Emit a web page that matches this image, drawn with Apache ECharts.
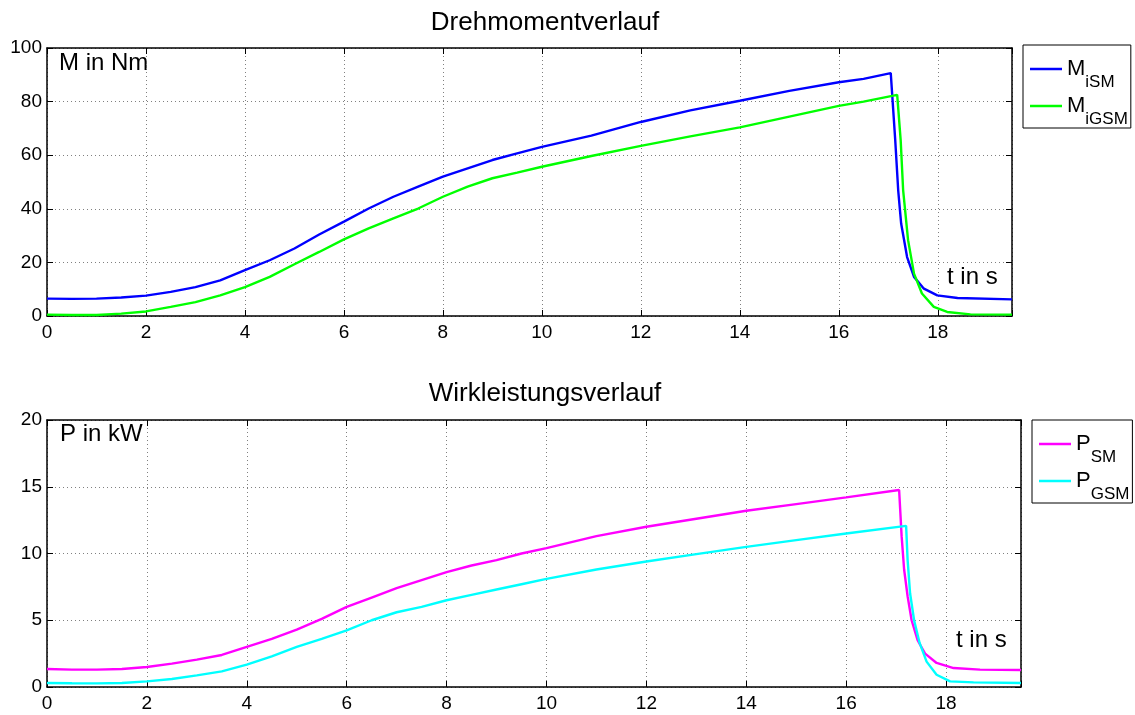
<!DOCTYPE html>
<html><head><meta charset="utf-8">
<script src="https://cdn.jsdelivr.net/npm/echarts@6/dist/echarts.min.js"></script>
<style>html,body{margin:0;padding:0;background:#fff}#c{width:1135px;height:715px}</style>
</head><body><div id="c"></div>
<script>
// ---- data ----
const xTicks = [0, 2, 4, 6, 8, 10, 12, 14, 16, 18];
const tM_iSM = [0,0.5,1,1.5,2,2.5,3,3.5,4,4.5,5,5.5,6,6.5,7,7.5,8,8.5,9,9.5,10,11,12,13,14,15,16,16.5,17.05,17.14,17.2,17.26,17.38,17.52,17.72,17.99,18.4,19.5];
const M_iSM  = [6.5,6.4,6.5,6.9,7.6,9.0,10.8,13.3,17.1,20.8,25.2,30.4,35.2,40.1,44.5,48.3,52.0,55.1,58.2,60.7,63.1,67.3,72.4,76.7,80.3,84.0,87.2,88.5,90.6,65.7,47,34.5,22,14.6,10.2,7.7,6.7,6.2];
const tM_iGSM = [0,0.5,1,1.5,2,2.5,3,3.5,4,4.5,5,5.5,6,6.5,7,7.5,8,8.5,9,9.5,10,11,12,13,14,15,16,16.5,17.18,17.25,17.3,17.4,17.52,17.68,17.92,18.19,18.66,19.5];
const M_iGSM  = [0.5,0.4,0.4,0.9,1.7,3.4,5.2,7.7,10.8,14.6,19.3,23.9,28.6,32.7,36.4,40.1,44.5,48.3,51.4,53.5,55.7,59.7,63.5,67.0,70.4,74.4,78.4,80.0,82.5,65.7,47,28.3,15.8,8.4,3.4,1.5,0.6,0.5];
const tP_SM = [0,0.5,1,1.5,2,2.5,3,3.5,4,4.5,5,5.5,6,6.5,7,7.5,8,8.5,9,9.5,10,11,12,13,14,15,16,17.06,17.11,17.16,17.23,17.31,17.43,17.58,17.81,18.15,18.68,19.5];
const P_SM  = [1.35,1.3,1.3,1.35,1.5,1.75,2.05,2.4,3.0,3.6,4.3,5.1,6.0,6.7,7.4,8.0,8.6,9.1,9.5,10.0,10.4,11.3,12.0,12.6,13.2,13.7,14.2,14.76,11.3,8.8,6.8,5.0,3.5,2.5,1.8,1.42,1.3,1.27];
const tP_GSM = [0,0.5,1,1.5,2,2.5,3,3.5,4,4.5,5,5.5,6,6.5,7,7.5,8,8.5,9,9.5,10,11,12,13,14,15,16,17.2,17.23,17.28,17.36,17.47,17.61,17.81,18.08,18.55,19.5];
const P_GSM  = [0.3,0.28,0.27,0.3,0.42,0.6,0.87,1.17,1.67,2.3,3.0,3.6,4.24,5.0,5.6,6.0,6.5,6.9,7.3,7.7,8.1,8.8,9.4,9.95,10.5,11.0,11.5,12.07,9.5,7.0,5.0,3.3,1.9,0.92,0.42,0.35,0.3];
const titles = ['Drehmomentverlauf', 'Wirkleistungsverlauf'];

// ---- chart ----
const FONT = '"Liberation Sans", Arial, Helvetica, sans-serif';
const pairs = (t, v) => t.map((x, i) => [x, v[i]]);
const gridLine = {show: true, lineStyle: {color: '#808080', type: [1, 3], width: 1}};
const axLine = {show: true, onZero: false, lineStyle: {color: '#000', width: 1.5}};
const tick = {show: true, inside: true, length: 6, lineStyle: {color: '#000', width: 1}};

function xAx(g, pos, main) {
  return {type: 'value', gridIndex: g, position: pos, min: 0, max: 19.5, interval: 2,
    axisLine: axLine, axisTick: tick,
    axisLabel: {show: main, color: '#000', fontSize: 19, fontFamily: FONT, margin: 7,
      formatter: v => xTicks.includes(v) ? String(v) : ''},
    splitLine: main ? gridLine : {show: false}};
}
function yAx(g, pos, main, max, iv) {
  return {type: 'value', gridIndex: g, position: pos, min: 0, max: max, interval: iv,
    axisLine: axLine, axisTick: tick,
    axisLabel: {show: main, color: '#000', fontSize: 19, fontFamily: FONT, margin: 5},
    splitLine: main ? gridLine : {show: false}};
}
const richLeg = {
  a: {fontSize: 22, fontFamily: FONT, color: '#000', lineHeight: 22, verticalAlign: 'top'},
  b: {fontSize: 17, fontFamily: FONT, color: '#000', lineHeight: 16, verticalAlign: 'top', padding: [16, 0, 0, 0]}
};
function legend(names, left, top) {
  return {orient: 'vertical', left: left, top: top, data: names,
    backgroundColor: '#fff', borderColor: '#000', borderWidth: 1, borderRadius: 0,
    padding: [13, 3, 0, 7], itemGap: 4, itemWidth: 32, itemHeight: 2.5, icon: 'rect',
    formatter: n => '{a|' + n[0] + '}{b|' + n.slice(1) + '}',
    textStyle: {rich: richLeg}};
}
const label = (txt, x, y, size) => ({type: 'text', x: x, y: y,
  style: {text: txt, font: size + 'px ' + FONT, fill: '#000', textVerticalAlign: 'middle'}});

const option = {
  animation: false,
  backgroundColor: '#fff',
  title: [
    {text: titles[0], left: 545, top: 10, padding: 0, textAlign: 'center', textStyle: {fontSize: 26, fontWeight: 'normal', fontFamily: FONT, color: '#000'}},
    {text: titles[1], left: 545, top: 381, padding: 0, textAlign: 'center', textStyle: {fontSize: 26, fontWeight: 'normal', fontFamily: FONT, color: '#000'}}
  ],
  grid: [
    {left: 47, top: 48, width: 965, height: 268},
    {left: 47, top: 420, width: 974, height: 267}
  ],
  xAxis: [xAx(0, 'bottom', true), xAx(0, 'top', false), xAx(1, 'bottom', true), xAx(1, 'top', false)],
  yAxis: [yAx(0, 'left', true, 100, 20), yAx(0, 'right', false, 100, 20), yAx(1, 'left', true, 20, 5), yAx(1, 'right', false, 20, 5)],
  legend: [legend(['MiSM', 'MiGSM'], 1023, 45), legend(['PSM', 'PGSM'], 1032, 420)],
  series: [
    {name: 'MiSM', type: 'line', xAxisIndex: 0, yAxisIndex: 0, showSymbol: false, symbol: 'none', data: pairs(tM_iSM, M_iSM), lineStyle: {color: '#0000ff', width: 2.4}, itemStyle: {color: '#0000ff'}},
    {name: 'MiGSM', type: 'line', xAxisIndex: 0, yAxisIndex: 0, showSymbol: false, symbol: 'none', data: pairs(tM_iGSM, M_iGSM), lineStyle: {color: '#00ff00', width: 2.4}, itemStyle: {color: '#00ff00'}},
    {name: 'PSM', type: 'line', xAxisIndex: 2, yAxisIndex: 2, showSymbol: false, symbol: 'none', data: pairs(tP_SM, P_SM), lineStyle: {color: '#ff00ff', width: 2.4}, itemStyle: {color: '#ff00ff'}},
    {name: 'PGSM', type: 'line', xAxisIndex: 2, yAxisIndex: 2, showSymbol: false, symbol: 'none', data: pairs(tP_GSM, P_GSM), lineStyle: {color: '#00ffff', width: 2.4}, itemStyle: {color: '#00ffff'}}
  ],
  graphic: [
    label('M in Nm', 59, 63, 24),
    label('t in s', 947, 277, 24),
    label('P in kW', 60, 434, 24),
    label('t in s', 956, 640, 24)
  ]
};
const chart = echarts.init(document.getElementById('c'), null, {renderer: 'canvas'});
chart.setOption(option);
</script>
</body></html>
